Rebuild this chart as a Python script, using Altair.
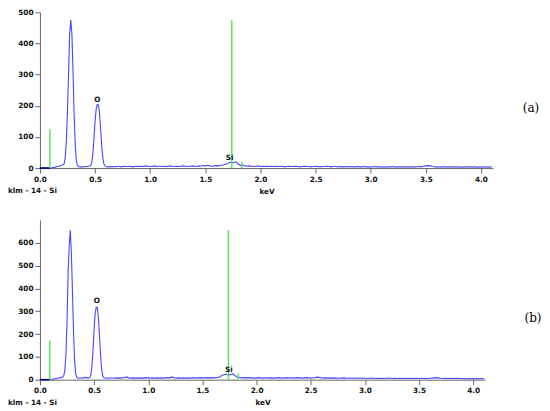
import altair as alt
import pandas as pd

# ---- spectrum (a): 0.00-0.70 keV at 0.01 keV, then 0.72-4.10 keV at 0.02 keV
fine_a = [0, 0, 0, 0, 0, 0, 0, 0, 0, 0,
          1, 1, 2, 2, 3, 4, 5, 6, 6, 8,
          9, 11, 14, 35, 90, 185, 310, 435, 475, 430,
          310, 175, 75, 25, 9, 5, 4, 4, 3, 4,
          5, 4, 5, 5, 6, 6, 8, 18, 45, 95,
          150, 190, 204, 203, 178, 128, 72, 34, 14, 7,
          5, 4, 5, 4, 4, 5, 4, 5, 5, 4, 5]
coarse_a = [5, 4, 6, 5, 5, 6, 4, 5, 6, 5,
            6, 5, 7, 6, 5, 6, 7, 5, 6, 6,
            5, 6, 5, 7, 6, 5, 6, 5, 6, 7,
            6, 5, 6, 7, 6, 5, 7, 6, 8, 7,
            9, 7, 6, 7, 8, 7, 9, 10, 12, 14,
            18, 19, 17, 20, 12, 8, 10, 7, 6, 7,
            6, 5, 6, 7, 5, 6, 5, 6, 5, 6,
            5, 6, 5, 5, 6, 4, 5, 6, 5, 5,
            6, 5, 4, 5, 6, 5, 5, 4, 5, 6,
            5, 4, 5, 5, 6, 5, 4, 5, 5, 4,
            5, 4, 4, 5, 4, 5, 4, 4, 5, 4,
            4, 5, 4, 4, 3, 4, 5, 4, 4, 3,
            4, 3, 4, 4, 5, 3, 4, 4, 3, 4,
            4, 3, 4, 4, 3, 4, 5, 4, 6, 7,
            8, 7, 5, 4, 3, 4, 3, 4, 4, 3,
            4, 3, 4, 3, 4, 3, 3, 4, 3, 4,
            3, 4, 3, 3, 4, 3, 4, 3, 3, 4]

# ---- spectrum (b)
fine_b = [0, 0, 0, 0, 0, 0, 0, 0, 0, 0,
          1, 2, 2, 3, 4, 5, 6, 7, 8, 9,
          10, 12, 18, 40, 110, 250, 470, 585, 655, 560,
          390, 210, 85, 28, 11, 7, 6, 6, 7, 8,
          8, 9, 10, 9, 8, 8, 10, 20, 58, 130,
          220, 290, 318, 316, 270, 190, 105, 45, 17, 9,
          7, 6, 7, 6, 7, 8, 7, 6, 7, 8, 7]
coarse_b = [8, 7, 8, 9, 12, 8, 7, 8, 7, 8,
            7, 8, 7, 9, 8, 7, 8, 7, 8, 7,
            8, 7, 8, 9, 8, 12, 8, 7, 8, 7,
            8, 7, 8, 7, 8, 9, 7, 8, 9, 8,
            8, 9, 8, 9, 8, 9, 10, 12, 18, 22,
            25, 20, 22, 26, 18, 12, 10, 9, 8, 9,
            8, 9, 8, 7, 8, 9, 8, 7, 8, 8,
            7, 8, 7, 8, 9, 8, 7, 8, 9, 8,
            8, 7, 8, 9, 8, 7, 8, 9, 8, 7,
            8, 9, 11, 10, 8, 7, 8, 7, 8, 7,
            8, 7, 6, 7, 8, 7, 6, 7, 6, 7,
            6, 7, 6, 7, 6, 5, 6, 7, 6, 5,
            6, 5, 6, 5, 6, 7, 6, 5, 6, 5,
            6, 5, 6, 5, 6, 5, 6, 5, 6, 5,
            6, 5, 6, 5, 6, 7, 8, 9, 8, 6,
            5, 6, 5, 6, 5, 6, 5, 6, 5, 4,
            5, 4, 5, 4, 5, 4, 5, 4, 5, 4]

# channel energies (keV)
energy = [round(0.01 * i, 2) for i in range(len(fine_a))] + \
         [round(0.72 + 0.02 * i, 2) for i in range(len(coarse_a))]

# green KLM marker lines
marker_kev = [0.09, 1.74, 1.83]
marker_a = [125, 475, 20]
marker_b = [172, 655, 26]

# peak labels
peak_names = ["O", "Si"]
peak_kev_a = [0.52, 1.72]
peak_pos_a = [220, 33]
peak_kev_b = [0.526, 1.745]
peak_pos_b = [344, 44]

x_ticks = [0.0, 0.5, 1.0, 1.5, 2.0, 2.5, 3.0, 3.5, 4.0]
y_ticks_a = [0, 100, 200, 300, 400, 500]
y_ticks_b = [0, 100, 200, 300, 400, 500, 600]

BOLD = dict(font="DejaVu Sans", fontWeight="bold", fontSize=7.3, color="#111111")


def panel(counts, markers, pk_kev, pk_pos, ymax, yticks, w, h, tag, tag_xy):
    spec = pd.DataFrame({"keV": energy, "counts": counts})
    xs = alt.Scale(domain=[0, 4.11], nice=False)
    ys = alt.Scale(domain=[0, ymax], nice=False)
    xaxis = alt.Axis(values=x_ticks, format=".1f", title="keV", titlePadding=5,
                     labelFlush=False, labelOverlap=False)
    yaxis = alt.Axis(values=yticks, title=None, labelFlush=False,
                     labelOverlap=False, tickCount=len(yticks))

    def X(f):
        return alt.X(f, scale=xs, axis=xaxis)

    def Y(f):
        return alt.Y(f, scale=ys, axis=yaxis)

    line = alt.Chart(spec).mark_line(color="#4848ff", strokeWidth=1.1).encode(
        x=X("keV:Q"), y=Y("counts:Q"),
    )
    mk = pd.DataFrame({"keV": marker_kev, "base": [0] * 3, "top": markers})
    rules = alt.Chart(mk).mark_rule(color="#5ee25e", strokeWidth=1.5).encode(
        x=X("keV:Q"), y=Y("base:Q"), y2="top:Q"
    )
    bl = pd.DataFrame({"x0": [0.0], "x1": [marker_kev[0]], "yb": [0]})
    baseline = alt.Chart(bl).mark_rule(color="#000080", strokeWidth=1.6).encode(
        x=X("x0:Q"), x2="x1:Q", y=Y("yb:Q")
    )
    pk = pd.DataFrame({"keV": pk_kev, "pos": pk_pos, "name": peak_names})
    peaks = alt.Chart(pk).mark_text(baseline="middle", **BOLD).encode(
        x=X("keV:Q"), y=Y("pos:Q"), text="name:N"
    )
    klm = alt.Chart(pd.DataFrame({"t": ["klm - 14 - Si"]})).mark_text(
        align="left", baseline="middle", **BOLD
    ).encode(x=alt.value(-32), y=alt.value(h + 23), text="t:N")
    lab = alt.Chart(pd.DataFrame({"t": [tag]})).mark_text(
        align="center", baseline="middle", font="DejaVu Serif", fontSize=12,
        color="#000000"
    ).encode(x=alt.value(tag_xy[0]), y=alt.value(tag_xy[1]), text="t:N")
    return alt.layer(line, baseline, rules, peaks, klm, lab).properties(width=w, height=h)


top = panel(fine_a + coarse_a, marker_a, peak_kev_a, peak_pos_a, 500, y_ticks_a,
            454, 156, "(a)", (492, 96))
bottom = panel(fine_b + coarse_b, marker_b, peak_kev_b, peak_pos_b, 700, y_ticks_b,
               446, 160, "(b)", (494, 98))

chart = alt.vconcat(top, bottom, spacing=52, bounds="flush").properties(
    padding=0
).configure_view(stroke=None).configure_axis(
    grid=False,
    labelFont="DejaVu Sans", labelFontWeight="bold", labelFontSize=7.3,
    labelColor="#111111", labelPadding=2,
    titleFont="DejaVu Sans", titleFontWeight="bold", titleFontSize=7.3,
    titleColor="#111111",
    domainColor="#666666", tickColor="#666666", tickSize=5,
)

chart.save("out.html", embed_options={"renderer": "svg", "actions": False})
